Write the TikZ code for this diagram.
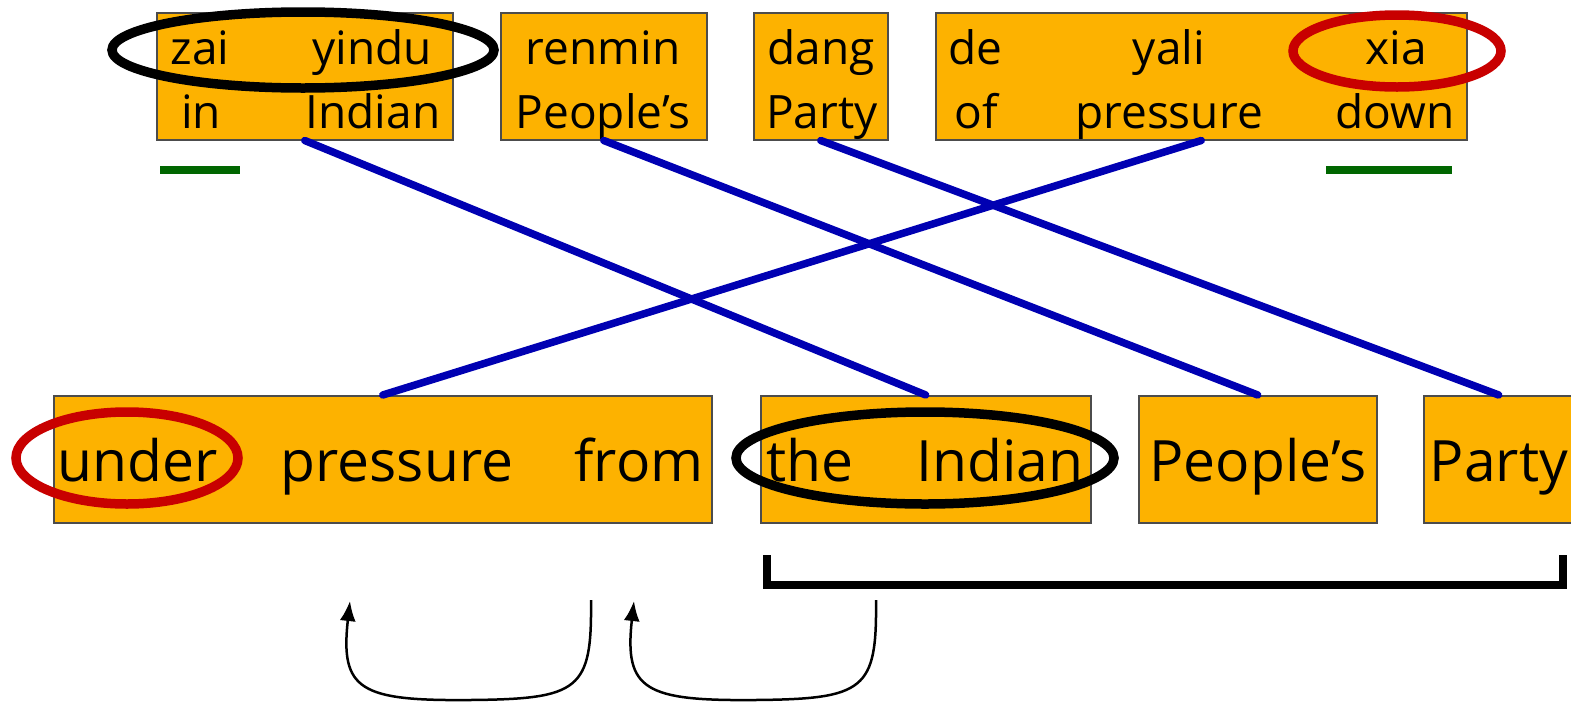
\documentclass[tikz,border=0pt]{standalone}
\usepackage{fontspec}
\setmainfont{Open Sans}
\usetikzlibrary{arrows.meta}
\definecolor{boxfill}{RGB}{253,178,0}
\definecolor{linkblue}{RGB}{0,0,178}
\definecolor{markgreen}{RGB}{0,102,0}
\definecolor{markred}{RGB}{200,0,0}
\begin{document}
\begin{tikzpicture}[x=1pt,y=-1pt,
  wordbox/.style={draw=black!70,line width=1.5pt,fill=boxfill,inner sep=0pt,
    anchor=north west,minimum height=127pt},
  topword/.style={anchor=base,inner sep=0pt,font=\fontsize{46}{46}\selectfont},
  botword/.style={anchor=base,inner sep=0pt,font=\fontsize{57}{57}\selectfont},
  link/.style={draw=linkblue,line width=7.5pt,line cap=round},
  ring/.style={line width=9.5pt},
  gap/.style={draw=markgreen,line width=7.5pt},
  hop/.style={line width=2.5pt,-{Latex[length=20pt,width=16pt]}}]
\useasboundingbox (0,0) rectangle (1571,705);

% source phrase boxes
\node[wordbox,minimum width=296pt] (t1) at (156,12) {};
\node[wordbox,minimum width=206pt] (t2) at (500,12) {};
\node[wordbox,minimum width=134pt] (t3) at (753,12) {};
\node[wordbox,minimum width=531pt] (t4) at (935,12) {};

% target phrase boxes
\node[wordbox,minimum width=658pt] (b1) at (53,395) {};
\node[wordbox,minimum width=330pt] (b2) at (760,395) {};
\node[wordbox,minimum width=238pt] (b3) at (1138,395) {};
\node[wordbox,minimum width=150pt] (b4) at (1423,395) {};

% source words and glosses
\node[topword] (w1) at (200,64) {zai};
\node[topword] (w2) at (372,64) {yindu};
\node[topword] (g1) at (201,128) {in};
\node[topword] (g2) at (373,128) {Indian};
\node[topword] (w3) at (603,64) {renmin};
\node[topword] (g3) at (603,128) {People’s};
\node[topword] (w4) at (821,64) {dang};
\node[topword] (g4) at (822,128) {Party};
\node[topword] (w5) at (975,64) {de};
\node[topword] (w6) at (1169,64) {yali};
\node[topword] (w7) at (1396,64) {xia};
\node[topword] (g5) at (976,128) {of};
\node[topword] (g6) at (1169,128) {pressure};
\node[topword] (g7) at (1395,128) {down};

% target words
\node[botword] (e1) at (138,481) {under};
\node[botword] (e2) at (397,481) {pressure};
\node[botword] (e3) at (639,481) {from};
\node[botword] (e4) at (810,481) {the};
\node[botword] (e5) at (1000,481) {Indian};
\node[botword] (e6) at (1258,481) {People’s};
\node[botword] (e7) at (1499,481) {Party};

% phrase alignments
\draw[link] (t1.south) -- (b2.north);
\draw[link] (t2.south) -- (b3.north);
\draw[link] (t3.south) -- (b4.north);
\draw[link] (t4.south) -- (b1.north);

% gap markers
\coordinate (gl1) at (160,170);
\coordinate (gl2) at (240,170);
\coordinate (gr1) at (1326,170);
\coordinate (gr2) at (1452,170);
\draw[gap] (gl1) -- (gl2);
\draw[gap] (gr1) -- (gr2);

% highlighted words
\draw[ring] (303,50) ellipse [x radius=191pt,y radius=38pt];
\draw[ring,markred] (1397,51) ellipse [x radius=104pt,y radius=36pt];
\draw[ring,markred] (127,458) ellipse [x radius=111pt,y radius=46pt];
\draw[ring] (925,458) ellipse [x radius=189pt,y radius=46pt];

% bracket under the noun phrase
\coordinate (k1) at (767,555);
\coordinate (k2) at (767,585);
\coordinate (k3) at (1563,585);
\coordinate (k4) at (1563,555);
\draw[line width=7.5pt] (k1) -- (k2) -- (k3) -- (k4);

% reordering hops
\coordinate (h1s) at (591,600);
\coordinate (h1e) at (350,601);
\coordinate (h2s) at (876,600);
\coordinate (h2e) at (634,601);
\draw[hop] (h1s) .. controls (592,690) and (580,699) .. (470,700)
  .. controls (360,701) and (340,690) .. (h1e);
\draw[hop] (h2s) .. controls (877,690) and (865,699) .. (755,700)
  .. controls (645,701) and (624,690) .. (h2e);
\end{tikzpicture}
\end{document}
